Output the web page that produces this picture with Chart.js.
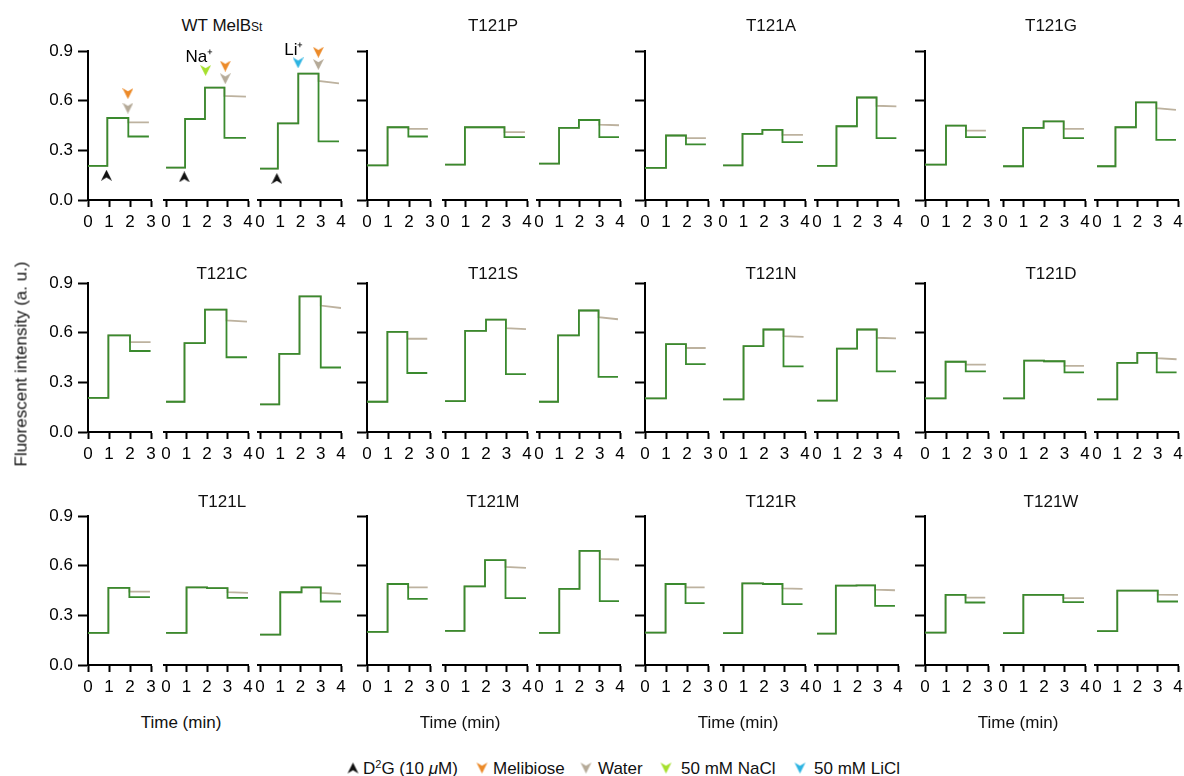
<!DOCTYPE html>
<html><head><meta charset="utf-8">
<script src="https://cdn.jsdelivr.net/npm/chart.js@4.4.1/dist/chart.umd.min.js"></script>
<style>
body{margin:0;background:#fff;}
#fig{position:relative;width:1184px;height:776px;overflow:hidden;font-family:'Liberation Sans',Arial,Helvetica,sans-serif;color:#111;background:#fff;}
#fig canvas{position:absolute;}
.ttl{position:absolute;font-size:17px;transform:translate(-50%,-50%);white-space:nowrap;line-height:1;}
.xt{position:absolute;font-size:17px;transform:translate(-50%,-50%);white-space:nowrap;line-height:1;}
.yl{position:absolute;font-size:17px;white-space:nowrap;line-height:1;transform:translate(-50%,-50%) rotate(-90deg);}
.lg{position:absolute;font-size:17px;white-space:nowrap;line-height:1;transform:translateY(-50%);}
.mk{position:absolute;transform:translate(-50%,-50%);}
</style></head>
<body><div id="fig"></div>
<script>
// ---------------- data ----------------
const panelNames = ["WT MelB", "T121P", "T121A", "T121G", "T121C", "T121S", "T121N", "T121D", "T121L", "T121M", "T121R", "T121W"];
const xTicksShort = [0, 1, 2, 3];
const xTicksLong = [0, 1, 2, 3, 4];
const yTicks = [0, 0.3, 0.6, 0.9];
// per panel: [sub-trace 1 (0-3 min), sub-trace 2 (NaCl), sub-trace 3 (LiCl)]
const baseline = [
 [0.206,0.196,0.190],[0.210,0.214,0.220],[0.194,0.210,0.206],[0.214,0.204,0.204],
 [0.207,0.183,0.167],[0.183,0.187,0.183],[0.203,0.197,0.190],[0.203,0.203,0.197],
 [0.194,0.194,0.184],[0.200,0.206,0.194],[0.196,0.193,0.190],[0.196,0.193,0.205]];
const tD2G = [
 [0.92,0.93,0.88],[0.98,0.97,0.99],[1.00,0.95,0.96],[1.00,0.98,0.91],
 [0.97,0.90,0.95],[0.97,0.98,0.94],[1.00,1.00,0.98],[0.98,1.03,1.00],
 [0.97,1.00,1.00],[0.98,0.95,1.00],[0.98,0.94,0.93],[0.98,0.99,1.00]];
const level1 = [
 [0.496,0.490,0.464],[0.440,0.440,0.436],[0.390,0.400,0.446],[0.450,0.436,0.440],
 [0.584,0.538,0.472],[0.605,0.612,0.584],[0.532,0.520,0.504],[0.425,0.432,0.418],
 [0.466,0.470,0.440],[0.490,0.476,0.460],[0.490,0.494,0.480],[0.424,0.424,0.450]];
const tIon = [
 [null,1.90,1.89],[null,1.95,1.97],[null,1.92,1.97],[null,1.98,1.92],
 [null,1.90,1.95],[null,2.00,1.97],[null,1.97,1.98],[null,2.00,1.99],
 [null,2.00,2.05],[null,1.95,2.00],[null,1.95,1.95],[null,1.95,2.00]];
const level2 = [
 [null,0.680,0.764],[null,0.440,0.484],[null,0.424,0.620],[null,0.476,0.590],
 [null,0.740,0.820],[null,0.680,0.735],[null,0.620,0.620],[null,0.428,0.478],
 [null,0.465,0.470],[null,0.634,0.690],[null,0.490,0.482],[null,0.424,0.450]];
const tFinal = [
 [1.92,2.85,2.89],[1.97,2.90,2.98],[1.95,2.90,2.94],[1.95,2.96,2.93],
 [2.00,2.95,3.00],[1.92,2.97,2.94],[1.95,2.95,2.95],[1.94,3.00,2.95],
 [1.97,3.00,3.00],[1.96,2.95,3.00],[1.93,2.90,2.87],[1.93,2.94,3.00]];
const melibioseLevel = [
 [0.384,0.376,0.354],[0.384,0.380,0.380],[0.336,0.350,0.374],[0.380,0.374,0.364],
 [0.490,0.452,0.390],[0.357,0.350,0.333],[0.410,0.397,0.367],[0.367,0.361,0.361],
 [0.410,0.406,0.384],[0.400,0.404,0.386],[0.374,0.368,0.358],[0.378,0.380,0.384]];
const waterLevel = [
 [0.470,0.630,0.720],[0.430,0.410,0.456],[0.374,0.394,0.570],[0.420,0.430,0.555],
 [0.544,0.675,0.765],[0.564,0.628,0.695],[0.508,0.580,0.570],[0.408,0.400,0.446],
 [0.444,0.440,0.436],[0.470,0.594,0.642],[0.470,0.464,0.456],[0.408,0.404,0.426]];
const waterEndLevel = [
 [0.470,0.625,0.705],[0.430,0.410,0.452],[0.374,0.394,0.566],[0.420,0.430,0.545],
 [0.544,0.668,0.750],[0.564,0.622,0.682],[0.508,0.575,0.566],[0.408,0.400,0.440],
 [0.444,0.436,0.430],[0.470,0.588,0.638],[0.470,0.460,0.452],[0.408,0.404,0.424]];
const tEnd = [
 [2.90,3.90,3.90],[2.90,3.90,3.95],[2.90,3.90,3.92],[2.90,3.95,3.90],
 [2.98,3.95,4.00],[2.87,3.95,3.90],[2.89,3.93,3.90],[2.90,3.95,3.93],
 [2.95,4.00,4.00],[2.89,3.95,3.95],[2.84,3.88,3.85],[2.87,3.95,4.00]];
// addition arrows (WT panel only): sub-trace index, time, level
const d2gSub = [0,1,2], d2gT = [0.88,0.89,0.83], d2gV = [0.15,0.14,0.13];
const meliSub = [0,1,2], meliT = [1.90,2.89,2.88], meliV = [0.644,0.810,0.894];
const waterSub = [0,1,2], waterT = [1.90,2.89,2.88], waterV = [0.556,0.734,0.820];
const naclSub = [1], naclT = [1.93], naclV = [0.784];
const liclSub = [2], liclT = [1.88], liclV = [0.830];
const ionLabelText = ["Na\u207A", "Li\u207A"], ionLabelSub = [1,2], ionLabelT = [1.63,1.67], ionLabelV = [0.866,0.905];

// ---------------- layout / style ----------------
const GREEN = '#3a8a2e', TAN = '#bdb29f';
const C_ORANGE = '#ec8a28', C_TAN = '#b5aa98', C_LIME = '#a5e02c', C_BLUE = '#2db4e2', C_BLACK = '#111';
const colX = [88, 367, 645, 925];
const rowTop = [50, 282, 515];
const titleY = [25, 273, 501];
const PLOT_W = 253, PLOT_H = 150, Y_W = 60, PAD_T = 14, PAD_R = 12, X_H = 40;
const FONT = "'Liberation Sans', Arial, Helvetica, sans-serif";
Chart.defaults.font.family = FONT;
Chart.defaults.font.size = 17;
Chart.defaults.color = '#000';

const fig = document.getElementById('fig');

// notched arrowhead glyph used as point style
function arrowImage(color, down) {
  const c = document.createElement('canvas');
  c.width = 11; c.height = 11;
  const g = c.getContext('2d');
  g.fillStyle = color;
  g.beginPath();
  if (down) { g.moveTo(0,0); g.lineTo(5.5,3.2); g.lineTo(11,0); g.lineTo(5.5,11); }
  else { g.moveTo(0,11); g.lineTo(5.5,7.8); g.lineTo(11,11); g.lineTo(5.5,0); }
  g.closePath(); g.fill();
  return c;
}

function tracePoints(p, k, water) {
  const pts = [{x:0, y:baseline[p][k]}, {x:tD2G[p][k], y:baseline[p][k]}, {x:tD2G[p][k], y:level1[p][k]}];
  let last = level1[p][k];
  if (tIon[p][k] !== null) {
    pts.push({x:tIon[p][k], y:last}, {x:tIon[p][k], y:level2[p][k]});
    last = level2[p][k];
  }
  pts.push({x:tFinal[p][k], y:last});
  if (water) pts.push({x:tFinal[p][k], y:waterLevel[p][k]}, {x:tEnd[p][k], y:waterEndLevel[p][k]});
  else pts.push({x:tFinal[p][k], y:melibioseLevel[p][k]}, {x:tEnd[p][k], y:melibioseLevel[p][k]});
  return pts;
}

function xAxis(weight, min, max, ticksArr) {
  return {
    type:'linear', position:'bottom', stack:'time', stackWeight:weight, min:min, max:max,
    afterBuildTicks: s => { s.ticks = ticksArr.map(v => ({value:v})); },
    afterFit: s => { s.height = X_H; },
    border:{display:true, color:'#000', width:2},
    grid:{display:true, drawOnChartArea:false, drawTicks:true, tickLength:7, tickWidth:2, tickColor:'#000'},
    ticks:{padding:5, maxRotation:0, autoSkip:false, color:'#000', font:{size:17}}
  };
}
function gapAxis(weight) {
  return {type:'linear', position:'bottom', stack:'time', stackWeight:weight, display:false};
}

function markerSet(subs, ts, vs, color, k, down) {
  const data = [];
  subs.forEach((s, i) => { if (s === k) data.push({x:ts[i], y:vs[i]}); });
  return {data, xAxisID:'x'+(k+1), yAxisID:'y', showLine:false, pointStyle:arrowImage(color, down), pointRadius:6,
    pointHoverRadius:6, pointBackgroundColor:color, pointBorderColor:color,
    pointBorderWidth:0, clip:false, order:0};
}

const ionLabelPlugin = {
  id:'ionLabels',
  afterDatasetsDraw(chart) {
    const ctx = chart.ctx;
    ctx.save();
    ctx.font = "17px " + FONT;
    ctx.fillStyle = '#000';
    ctx.textAlign = 'center';
    ctx.textBaseline = 'middle';
    ionLabelText.forEach((txt, i) => {
      const xs = chart.scales['x' + (ionLabelSub[i] + 1)];
      ctx.fillText(txt, xs.getPixelForValue(ionLabelT[i]), chart.scales.y.getPixelForValue(ionLabelV[i]));
    });
    ctx.restore();
  }
};

panelNames.forEach((name, p) => {
  const col = p % 4, row = Math.floor(p / 4);
  const cv = document.createElement('canvas');
  const W = Y_W + PLOT_W + PAD_R, H = PAD_T + PLOT_H + X_H;
  cv.width = W; cv.height = H;
  cv.style.left = (colX[col] - Y_W) + 'px';
  cv.style.top = (rowTop[row] - PAD_T) + 'px';
  fig.appendChild(cv);

  const datasets = [];
  for (let k = 0; k < 3; k++) {
    datasets.push({data:tracePoints(p,k,false), xAxisID:'x'+(k+1), yAxisID:'y', borderColor:GREEN, borderWidth:1.8,
      pointRadius:0, pointHoverRadius:0, tension:0, fill:false, order:1});
    datasets.push({data:tracePoints(p,k,true), xAxisID:'x'+(k+1), yAxisID:'y', borderColor:TAN, borderWidth:1.8,
      pointRadius:0, pointHoverRadius:0, tension:0, fill:false, order:2});
  }
  const plugins = [];
  if (p === 0) {
    for (let k = 0; k < 3; k++) {
      datasets.push(markerSet(d2gSub, d2gT, d2gV, C_BLACK, k, false));
      datasets.push(markerSet(meliSub, meliT, meliV, C_ORANGE, k, true));
      datasets.push(markerSet(waterSub, waterT, waterV, C_TAN, k, true));
      datasets.push(markerSet(naclSub, naclT, naclV, C_LIME, k, true));
      datasets.push(markerSet(liclSub, liclT, liclV, C_BLUE, k, true));
    }
    plugins.push(ionLabelPlugin);
  }

  new Chart(cv, {
    type:'line',
    data:{datasets},
    plugins,
    options:{
      responsive:false, animation:false, devicePixelRatio:1,
      layout:{padding:{top:PAD_T, right:PAD_R, bottom:0, left:0}},
      plugins:{legend:{display:false}, tooltip:{enabled:false}, title:{display:false}},
      scales:{
        y:{type:'linear', position:'left', min:0, max:0.9,
          afterBuildTicks: s => { s.ticks = yTicks.map(v => ({value:v})); },
          afterFit: s => { s.width = Y_W; },
          border:{display:true, color:'#000', width:2},
          grid:{display:true, drawOnChartArea:false, drawTicks:true, tickLength:10, tickWidth:2, tickColor:'#000'},
          ticks:{padding:5, color:'#000', font:{size:17}, callback: v => col === 0 ? Number(v).toFixed(1) : ''}},
        x1: xAxis(63, 0, 3, xTicksShort),
        g1: gapAxis(13),
        x2: xAxis(84, -0.1, 4, xTicksLong),
        g2: gapAxis(10),
        x3: xAxis(83, -0.1, 4, xTicksLong)
      }
    }
  });

  const t = document.createElement('div');
  t.className = 'ttl';
  t.style.left = (colX[col] + (col === 0 ? 134 : 126)) + 'px';
  t.style.top = titleY[row] + 'px';
  if (p === 0) t.innerHTML = name + '<span style="font-size:12px">St</span>';
  else t.textContent = name;
  fig.appendChild(t);
});

colX.forEach(x => {
  const d = document.createElement('div');
  d.className = 'xt';
  d.style.left = (x + 93) + 'px';
  d.style.top = '722px';
  d.textContent = 'Time (min)';
  fig.appendChild(d);
});

const yl = document.createElement('div');
yl.className = 'yl';
yl.style.left = '21px'; yl.style.top = '364px';
yl.textContent = 'Fluorescent intensity (a. u.)';
fig.appendChild(yl);

// legend
const legendItems = [
  {html:'D<sup style="font-size:11px;vertical-align:6px">2</sup>G (10 <i>\u03BC</i>M)', color:C_BLACK, up:true, mx:353, tx:363},
  {html:'Melibiose', color:C_ORANGE, up:false, mx:482, tx:493},
  {html:'Water', color:C_TAN, up:false, mx:586, tx:598},
  {html:'50 mM NaCl', color:C_LIME, up:false, mx:666, tx:681},
  {html:'50 mM LiCl', color:C_BLUE, up:false, mx:800, tx:814}
];
legendItems.forEach(it => {
  const m = arrowImage(it.color, !it.up);
  m.className = 'mk';
  m.style.left = it.mx + 'px'; m.style.top = '768px';
  fig.appendChild(m);
  const t = document.createElement('div');
  t.className = 'lg';
  t.style.left = it.tx + 'px'; t.style.top = '768px';
  t.innerHTML = it.html;
  fig.appendChild(t);
});
</script>
</body></html>
